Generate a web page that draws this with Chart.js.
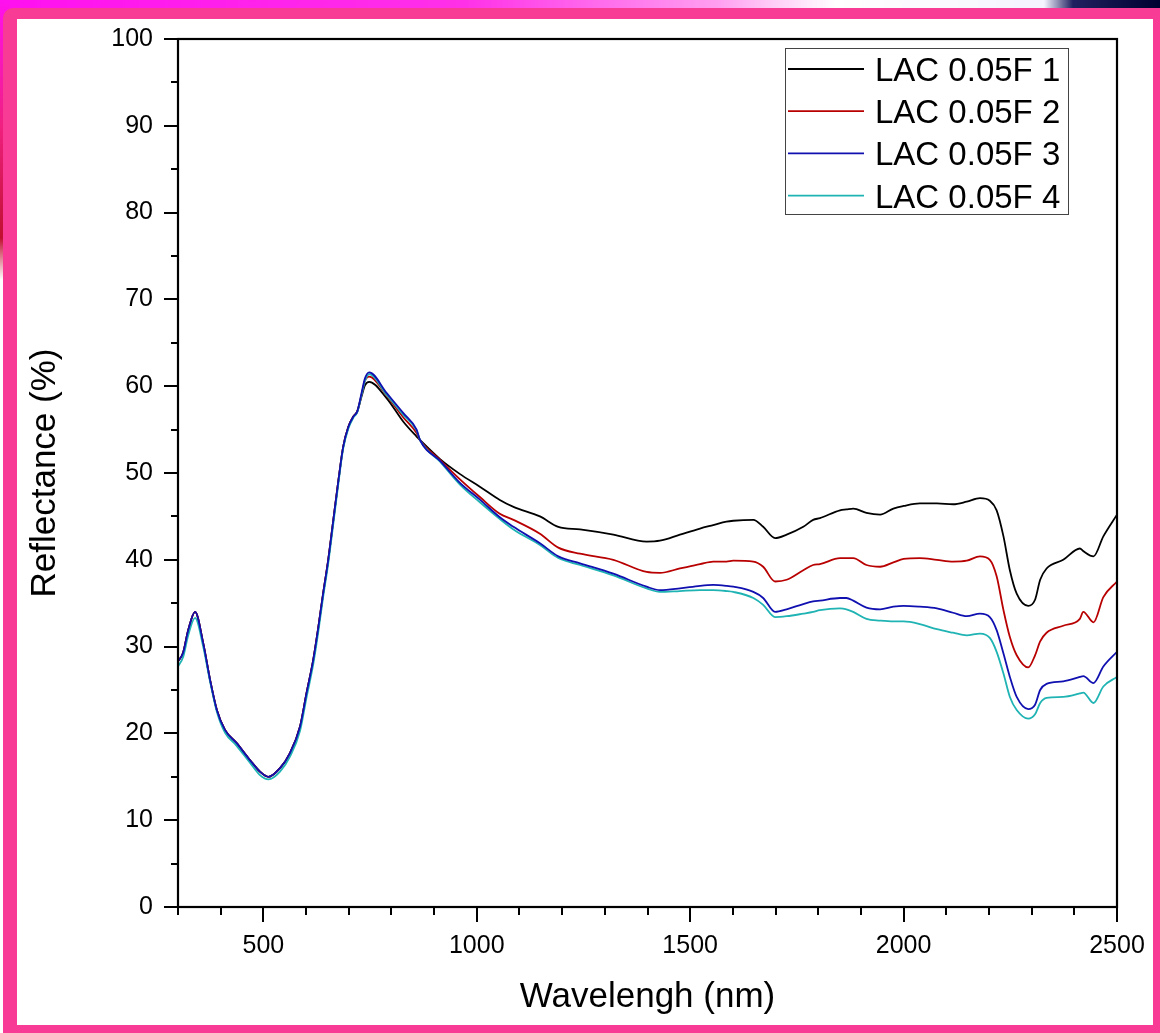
<!DOCTYPE html>
<html><head><meta charset="utf-8">
<script src="https://cdn.jsdelivr.net/npm/chart.js@4.4.0/dist/chart.umd.min.js"></script>
<style>
html,body{margin:0;padding:0;}
body{width:1160px;height:1033px;position:relative;overflow:hidden;background:#fff;}
#bgTop{position:absolute;left:0;top:0;width:1160px;height:20px;background:linear-gradient(90deg,#ff10f0 0%,#ff30e8 40%,#ffa0f0 62%,#ffffff 72%,#f4f4ff 90%,#202060 92.5%,#000030 100%);}
#bgLeft{position:absolute;left:0;top:0;width:10px;height:280px;background:linear-gradient(180deg,#ff10f0 0%,#f02080 45%,#c01030 85%,#ffffff 100%);}
#frame{position:absolute;left:3px;top:8px;width:1157px;height:1025px;background:#f83c96;border-top-left-radius:10px;}
#inner{position:absolute;left:17px;top:19px;width:1136px;height:1006px;background:#fff;}
#inner canvas{position:absolute;left:0;top:0;}
</style></head>
<body>
<div id="bgTop"></div><div id="bgLeft"></div>
<div id="frame"></div>
<div id="inner"><canvas id="c" width="1136" height="1006"></canvas></div>
<script>
const wavelengths = [300,312,324,340,359,375,391,410,437,469,
492,512,539,562,586,601,617,629,640,652,
664,676,687,699,711,720,730,738,748,789,
828,859,867,914,960,1008,1054,1086,1148,1191,
1242,1320,1398,1429,1476,1523,1554,1585,1601,1648,
1671,1699,1726,1765,1788,1804,1851,1866,1882,1913,
1945,1976,2000,2038,2078,2116,2148,2179,2202,2218,
2234,2249,2265,2292,2308,2320,2335,2374,2413,2421,
2445,2468,2500];

const lac1 = [28.3,29.3,31.9,34.0,30.4,26.2,22.7,20.4,18.9,16.9,
15.6,15.0,16.0,17.7,20.8,24.6,28.5,32.3,36.1,40.0,
44.6,49.2,53.0,55.3,56.5,57.1,58.8,60.1,60.5,58.6,
55.9,54.2,53.8,51.6,49.9,48.4,46.9,46.1,45.0,43.8,
43.5,42.9,42.1,42.2,42.9,43.6,44.0,44.4,44.5,44.6,
43.8,42.5,42.9,43.8,44.6,44.8,45.7,45.8,45.9,45.4,
45.2,45.9,46.2,46.5,46.5,46.4,46.7,47.1,46.8,45.7,
42.7,38.8,36.1,34.7,35.4,37.7,39.0,40.0,41.3,41.0,
40.4,42.7,45.2];

const lac2 = [28.3,29.3,31.9,34.0,30.4,26.2,22.7,20.4,18.9,16.9,
15.6,15.0,16.0,17.7,20.8,24.6,28.5,32.3,36.1,40.0,
44.6,49.2,53.0,55.3,56.5,57.1,59.0,60.6,61.1,58.9,
56.4,54.6,53.8,51.5,49.3,47.2,45.3,44.6,43.0,41.4,
40.7,40.0,38.6,38.5,39.0,39.5,39.8,39.8,39.9,39.8,
39.2,37.5,37.7,38.8,39.4,39.5,40.2,40.2,40.2,39.4,
39.2,39.7,40.1,40.2,40.0,39.8,39.9,40.4,40.0,38.1,
34.2,31.1,29.0,27.6,29.0,30.6,31.6,32.4,33.2,34.0,
32.8,35.7,37.5];

const lac3 = [28.3,29.3,31.9,34.0,30.4,26.2,22.7,20.4,18.9,16.9,
15.6,15.0,16.0,17.7,20.8,24.6,28.5,32.3,36.1,40.0,
44.6,49.2,53.0,55.3,56.5,57.1,59.2,60.9,61.6,59.2,
56.9,55.0,53.8,51.4,48.9,46.9,44.9,43.8,41.9,40.4,
39.6,38.4,36.9,36.5,36.7,37.0,37.1,37.0,36.9,36.3,
35.6,34.0,34.3,34.9,35.2,35.3,35.6,35.6,35.3,34.5,
34.3,34.6,34.7,34.6,34.4,33.9,33.5,33.8,33.4,31.9,
29.2,26.5,24.2,22.8,23.3,25.0,25.7,26.0,26.5,26.6,
25.8,27.7,29.4];

const lac4 = [27.7,28.8,31.3,33.3,30.0,26.0,22.5,20.1,18.6,16.6,
15.2,14.7,15.6,17.3,20.3,24.1,28.0,31.8,35.7,39.6,
44.2,48.9,52.8,55.1,56.4,57.0,59.0,60.6,61.4,59.0,
56.7,54.9,53.8,51.3,48.7,46.6,44.7,43.5,41.7,40.2,
39.4,38.2,36.7,36.3,36.4,36.5,36.5,36.4,36.3,35.6,
34.8,33.4,33.5,33.8,34.0,34.2,34.4,34.3,34.0,33.2,
33.0,32.9,32.9,32.6,32.0,31.6,31.3,31.5,31.0,29.4,
26.9,24.2,22.7,21.7,22.2,23.5,24.1,24.2,24.6,24.7,
23.5,25.4,26.5];

const seriesLabels = ['LAC 0.05F 1','LAC 0.05F 2','LAC 0.05F 3','LAC 0.05F 4'];
const seriesColors = ['#000000','#b80000','#1010b0','#1fb3b3'];
const xTickLabels = [500,1000,1500,2000,2500];
const yTickLabels = [0,10,20,30,40,50,60,70,80,90,100];

const FONT = '"Liberation Sans", Arial, Helvetica, sans-serif';
Chart.defaults.font.family = FONT;
Chart.defaults.color = '#000';

const allSeries = [lac1, lac2, lac3, lac4];
const drawOrder = [3, 2, 0, 1];
const datasets = allSeries.map((s, i) => ({
  label: seriesLabels[i],
  data: wavelengths.map((w, k) => ({x: w, y: s[k]})),
  borderColor: seriesColors[i],
  backgroundColor: seriesColors[i],
  borderWidth: 1.8,
  pointRadius: 0,
  fill: false,
  cubicInterpolationMode: 'monotone',
  order: drawOrder[i]
}));

const framePlugin = {
  id: 'frame',
  afterDatasetsDraw(chart) {
    const {ctx, chartArea: a, scales: {x, y}} = chart;
    ctx.save();
    ctx.strokeStyle = '#000';
    ctx.lineWidth = 2.2;
    ctx.strokeRect(a.left, a.top, a.right - a.left, a.bottom - a.top);
    ctx.lineWidth = 2;
    ctx.beginPath();
    x.ticks.forEach(t => {
      const px = Math.round(x.getPixelForValue(t.value));
      const len = xTickLabels.includes(t.value) ? 15 : 8;
      ctx.moveTo(px, a.bottom); ctx.lineTo(px, a.bottom + len);
    });
    y.ticks.forEach(t => {
      const py = Math.round(y.getPixelForValue(t.value));
      const len = yTickLabels.includes(t.value) ? 14 : 7;
      ctx.moveTo(a.left, py); ctx.lineTo(a.left - len, py);
    });
    ctx.stroke();
    // legend
    const bx = a.right - 332, by = a.top + 9, bw = 283, bh = 166;
    ctx.fillStyle = '#fff';
    ctx.fillRect(bx, by, bw, bh);
    ctx.strokeStyle = '#444';
    ctx.lineWidth = 1;
    ctx.strokeRect(bx + 0.5, by + 0.5, bw, bh);
    ctx.font = '33px ' + FONT;
    ctx.textAlign = 'left';
    ctx.textBaseline = 'alphabetic';
    chart.data.datasets.forEach((ds, i) => {
      const cy = a.top + 30 + i * 42.2;
      ctx.strokeStyle = ds.borderColor;
      ctx.lineWidth = 1.8;
      ctx.beginPath();
      ctx.moveTo(bx + 3, cy); ctx.lineTo(bx + 79, cy);
      ctx.stroke();
      ctx.fillStyle = '#000';
      ctx.fillText(ds.label, bx + 90, cy + 12);
    });
    ctx.restore();
  }
};

function zeroPad(s) { s.paddingTop = 0; s.paddingBottom = 0; s.paddingLeft = 0; s.paddingRight = 0; }

new Chart(document.getElementById('c'), {
  type: 'line',
  data: {datasets},
  options: {
    responsive: false,
    animation: false,
    layout: {padding: {left: 0, top: 20, right: 36, bottom: 0}},
    plugins: {legend: {display: false}, tooltip: {enabled: false}},
    scales: {
      x: {
        type: 'linear', min: 300, max: 2500,
        grid: {display: false, drawTicks: false},
        border: {display: false},
        ticks: {
          stepSize: 100, autoSkip: false, maxRotation: 0, padding: 24,
          font: {size: 25},
          callback: v => xTickLabels.includes(v) ? String(v) : ''
        },
        title: {display: true, text: 'Wavelengh (nm)', font: {size: 35}, padding: {top: 0, bottom: 7}},
        afterFit: s => { s.height = 118; zeroPad(s); }
      },
      y: {
        type: 'linear', min: 0, max: 100,
        grid: {display: false, drawTicks: false},
        border: {display: false},
        ticks: {
          stepSize: 5, autoSkip: false, padding: 25,
          font: {size: 25},
          callback: v => yTickLabels.includes(v) ? String(v) : ''
        },
        title: {display: true, text: 'Reflectance (%)', font: {size: 35}, padding: {top: 7, bottom: 0}},
        afterFit: s => { s.width = 161; zeroPad(s); }
      }
    }
  },
  plugins: [framePlugin]
});
</script>
</body></html>
